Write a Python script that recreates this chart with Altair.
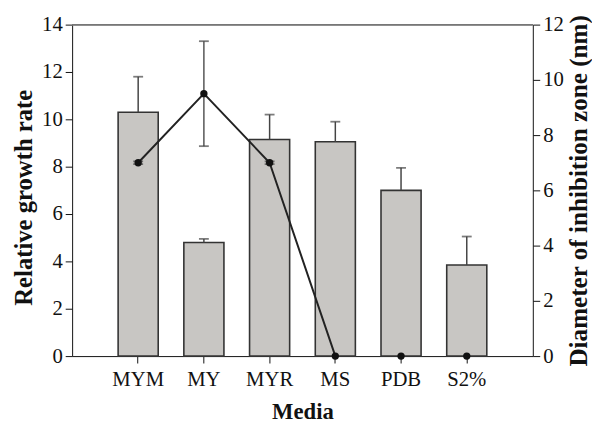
import altair as alt
import pandas as pd

cats = ["MYM", "MY", "MYR", "MS", "PDB", "S2%"]
growth = [10.3, 4.8, 9.15, 9.05, 7.0, 3.85]
growth_err = [1.5, 0.15, 1.05, 0.85, 0.95, 1.2]
zone = [7.0, 9.5, 7.0, 0.0, 0.0, 0.0]
zone_err = [0.05, 1.9, 0.05, 0.0, 0.0, 0.0]
line_cats = ["MYM", "MY", "MYR", "MS"]

df = pd.DataFrame({
    "Media": cats,
    "growth": growth,
    "growth_top": [g + e for g, e in zip(growth, growth_err)],
    "zone": zone,
    "zone_lo": [z - e for z, e in zip(zone, zone_err)],
    "zone_hi": [z + e for z, e in zip(zone, zone_err)],
})
df_zerr = df[df["zone_hi"] > df["zone_lo"]]
df_line = df[df["Media"].isin(line_cats)]

FONT = "Liberation Serif"

x = alt.X("Media:N", sort=cats,
          scale=alt.Scale(domain=cats, paddingInner=0.39, paddingOuter=0.7),
          axis=alt.Axis(title="Media", labelAngle=0, titlePadding=11))

yL = alt.Scale(domain=[0, 14], nice=False)
yR = alt.Scale(domain=[0, 12], nice=False)

base = alt.Chart(df)

bars = base.mark_bar(color="#c8c6c3", stroke="#333333", strokeWidth=1.6).encode(
    x=x,
    y=alt.Y("growth:Q", scale=yL,
            axis=alt.Axis(title="Relative growth rate", values=list(range(0, 15, 2)),
                          titlePadding=5, titleY=175)),
)
gerr = base.mark_rule(color="#444444", strokeWidth=1.5).encode(
    x=x, y=alt.Y("growth:Q", scale=yL), y2="growth_top:Q")
gcap = base.mark_tick(color="#444444", thickness=1.8, size=10, orient="horizontal").encode(
    x=x, y=alt.Y("growth_top:Q", scale=yL))

left = alt.layer(bars, gerr, gcap)

line = alt.Chart(df_line).mark_line(color="#222222", strokeWidth=2).encode(
    x=x,
    y=alt.Y("zone:Q", scale=yR,
            axis=alt.Axis(title="Diameter of inhibition zone (nm)", orient="right",
                          values=list(range(0, 13, 2)),
                          titleAngle=270, titleFontSize=25.5, titleX=54, titleY=168,
                          titleAlign="center", titleBaseline="alphabetic")),
)
pts = base.mark_point(filled=True, color="#111111", size=55, opacity=1).encode(
    x=x, y=alt.Y("zone:Q", scale=yR))
zerrb = alt.Chart(df_zerr)
zerr = zerrb.mark_rule(color="#555555", strokeWidth=1.5).encode(
    x=x, y=alt.Y("zone_lo:Q", scale=yR), y2="zone_hi:Q")
zcap1 = zerrb.mark_tick(color="#444444", thickness=1.8, size=10, orient="horizontal").encode(
    x=x, y=alt.Y("zone_hi:Q", scale=yR))
zcap2 = zerrb.mark_tick(color="#444444", thickness=1.8, size=10, orient="horizontal").encode(
    x=x, y=alt.Y("zone_lo:Q", scale=yR))

right = alt.layer(line, zerr, zcap1, zcap2, pts)

topline = alt.Chart(df).mark_rule(color="#777777", strokeWidth=1.5).encode(
    x=alt.value(0), x2=alt.value(467), y=alt.value(0))

chart = alt.layer(left, right, topline).resolve_scale(y="independent").properties(
    width=467, height=336,
    autosize=alt.AutoSizeParams(type="none"),
    padding={"left": 65, "top": 14, "right": 60, "bottom": 67},
).configure_view(stroke=None).configure_axis(
    labelFont=FONT, labelFontSize=21, labelColor="#111111",
    titleFont=FONT, titleFontSize=25, titleFontWeight="bold", titleColor="#111111",
    domainColor="#111111", tickColor="#111111", tickSize=7, grid=False,
    labelPadding=3,
).configure_axisX(titleFontSize=23, labelPadding=6, domainColor="#111111")

chart.save("out.html", embed_options={"renderer": "svg", "actions": False})
